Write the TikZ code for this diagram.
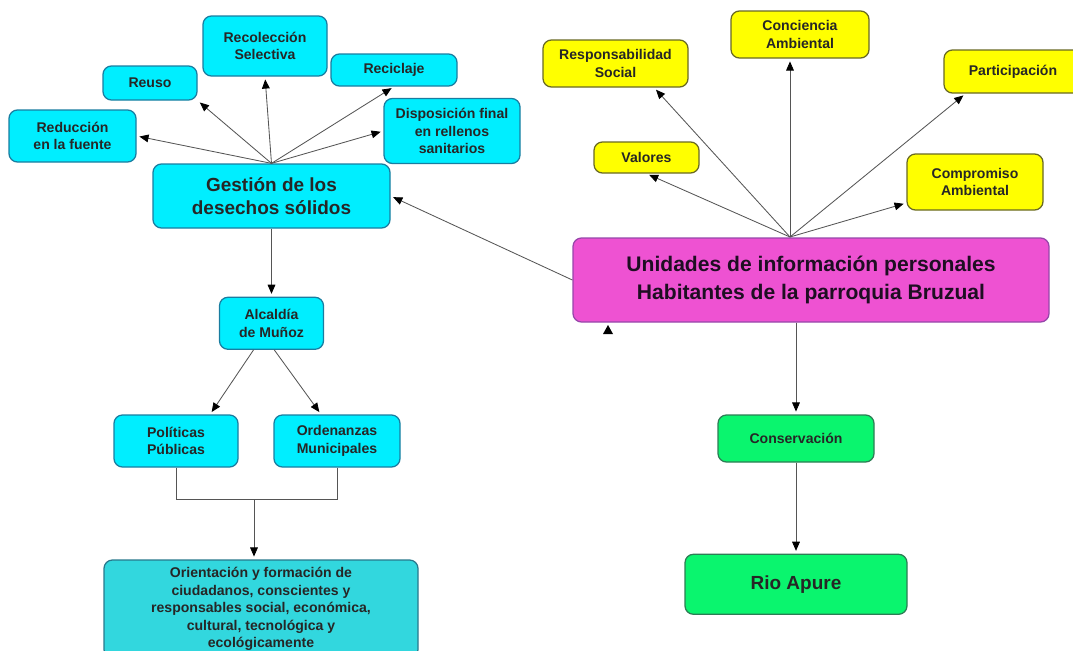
\documentclass[tikz,border=0pt]{standalone}
\usepackage{fontspec}
\setmainfont{Liberation Sans}
\usetikzlibrary{positioning,arrows.meta}

\definecolor{cyanfill}{RGB}{0,238,255}
\definecolor{cyanline}{RGB}{25,125,160}
\definecolor{tealfill}{RGB}{50,215,222}
\definecolor{tealline}{RGB}{40,120,140}
\definecolor{yellowfill}{RGB}{255,255,0}
\definecolor{yellowline}{RGB}{105,105,35}
\definecolor{pinkfill}{RGB}{238,82,210}
\definecolor{pinkline}{RGB}{150,70,170}
\definecolor{greenfill}{RGB}{10,245,110}
\definecolor{greenline}{RGB}{45,125,85}
\definecolor{linkgray}{RGB}{85,85,85}

\begin{document}
\begin{tikzpicture}[x=0.025cm,y=-0.025cm,
        concept/.style={rectangle,rounded corners=6pt,draw,line width=0.9pt,align=center,inner sep=2pt,
            font=\bfseries\fontsize{10}{12.5}\selectfont,text=black!85},
        boxsize/.style 2 args={minimum width=#1*0.025cm,minimum height=#2*0.025cm},
        cyanbox/.style={concept,fill=cyanfill,draw=cyanline},
        yellowbox/.style={concept,fill=yellowfill,draw=yellowline},
        greenbox/.style={concept,fill=greenfill,draw=greenline},
        link/.style={draw=linkgray,line width=0.6pt,shorten >=2pt,
            -{Triangle[length=6.5pt,width=5.5pt,color=black]}}
    ]
    \useasboundingbox (0,0) rectangle (1073,651);

    % residuos
    \node[cyanbox,boxsize={237}{64},font=\bfseries\fontsize{13.5}{16}\selectfont] (gestion) at (271.5,196) {Gestión de los\\desechos sólidos};
    \node[cyanbox,boxsize={127}{52}] (reduccion) at (72.5,136) {Reducción\\en la fuente};
    \node[cyanbox,boxsize={94}{34}] (reuso) at (150,83) {Reuso};
    \node[cyanbox,boxsize={124}{60}] (recoleccion) at (265,46) {Recolección\\Selectiva};
    \node[cyanbox,boxsize={126}{32}] (reciclaje) at (394,70) {Reciclaje};
    \node[cyanbox,boxsize={136}{65}] (disposicion) at (452,131) {Disposición final\\en rellenos\\sanitarios};
    \node[cyanbox,boxsize={104}{52}] (alcaldia) [below=1.7cm of gestion] {Alcaldía\\de Muñoz};
    \node[cyanbox,boxsize={124}{52}] (politicas) at (176,441) {Políticas\\Públicas};
    \node[cyanbox,boxsize={126}{52}] (ordenanzas) at (337,441) {Ordenanzas\\Municipales};
    \node[concept,fill=tealfill,draw=tealline,boxsize={314}{98}] (orientacion) at (261,609)
        {Orientación y formación de\\ciudadanos, conscientes y\\responsables social, económica,\\cultural, tecnológica y\\ecológicamente};

    % habitantes
    \node[concept,fill=pinkfill,draw=pinkline,boxsize={476}{84},text=black!80!pinkline,
        font=\bfseries\fontsize{15}{19.5}\selectfont] (unidades) at (811,280)
        {Unidades de información personales\\Habitantes de la parroquia Bruzual};
    \node[yellowbox,boxsize={145}{47}] (responsabilidad) at (615.5,63.5) {Responsabilidad\\Social};
    \node[yellowbox,boxsize={138}{47}] (conciencia) at (800,34.5) {Conciencia\\Ambiental};
    \node[yellowbox,boxsize={138}{43}] (participacion) at (1013,71.5) {Participación};
    \node[yellowbox,boxsize={105}{31}] (valores) at (646.5,157.5) {Valores};
    \node[yellowbox,boxsize={136}{56}] (compromiso) at (975,182) {Compromiso\\Ambiental};
    \node[greenbox,boxsize={156}{47}] (conservacion) at (796,438.5) {Conservación};
    \node[greenbox,boxsize={222}{60},font=\bfseries\fontsize{13.5}{16}\selectfont] (rioapure) [below=2.275cm of conservacion] {Rio Apure};

    \coordinate (hub) at (790,237);
    \coordinate (join) at (254,499);
    \coordinate (stray) at (603,334);

    \path (gestion.north) edge[link] (reduccion.east)
          (gestion.north) edge[link] (reuso.south east)
          (gestion.north) edge[link] (recoleccion.south)
          (gestion.north) edge[link] (reciclaje.south)
          (gestion.north) edge[link] (disposicion.west);
    \path (hub) edge[link] (valores.south)
          (hub) edge[link] (responsabilidad.-32)
          (hub) edge[link] (hub |- conciencia.south)
          (hub) edge[link] (participacion.-155)
          (hub) edge[link] (compromiso.-163);
    \path (unidades.west) edge[link] (gestion.east)
          (gestion.south) edge[link] (alcaldia.north)
          (alcaldia.-124) edge[link] (politicas.38)
          (alcaldia.-84) edge[link] (ordenanzas.121)
          (conservacion.north |- unidades.south) edge[link] (conservacion.north)
          (conservacion.south) edge[link] (rioapure.north);
    \draw[linkgray,line width=0.6pt] (politicas.south) -- ++(0,32) -| (ordenanzas.south);
    \path (join) edge[link] (join |- orientacion.north);
    \fill (stray) -- ++(10,0) -- ++(-5,-9) -- cycle;
\end{tikzpicture}
\end{document}
